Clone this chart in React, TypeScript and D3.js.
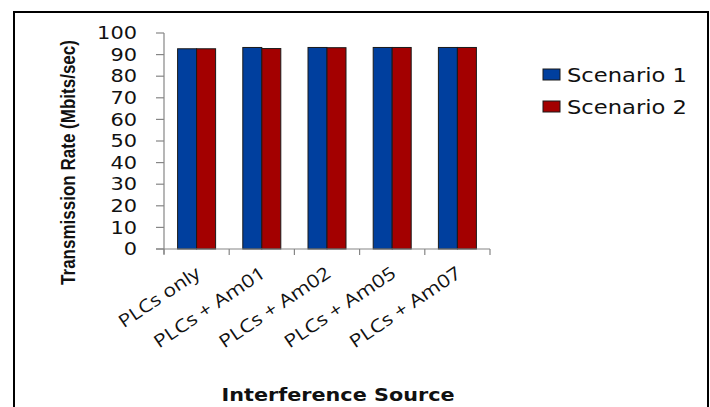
import { useEffect, useRef } from 'react'
import * as d3 from 'd3'

const categories = ['PLCs only', 'PLCs + Am01', 'PLCs + Am02', 'PLCs + Am05', 'PLCs + Am07']
const seriesNames = ['Scenario 1', 'Scenario 2']
const scenario1 = [92.7, 93.3, 93.3, 93.3, 93.3]
const scenario2 = [92.7, 92.8, 93.2, 93.3, 93.3]
const yTicks = [0, 10, 20, 30, 40, 50, 60, 70, 80, 90, 100]
const colors = ['#003f9e', '#a30000']

export default function App() {
  const svgRef = useRef<SVGSVGElement>(null)

  useEffect(() => {
    if (!svgRef.current) return
    const svg = d3.select(svgRef.current)
    svg.selectAll('*').remove()

    const left = 164
    const right = 490
    const top = 33
    const bottom = 249

    // frame
    svg.append('rect')
      .attr('x', 14).attr('y', 12)
      .attr('width', 694).attr('height', 420)
      .style('fill', 'white')
      .style('stroke', '#000')
      .style('stroke-width', 2)

    const x = d3.scaleBand<string>().domain(categories).range([left, right])
    const inner = d3.scaleBand<string>().domain(seriesNames).range([-19, 19])
    const y = d3.scaleLinear().domain([0, 100]).range([bottom, top])

    const data = [scenario1, scenario2]

    // bars
    const groups = svg.append('g')
    categories.forEach((c, i) => {
      seriesNames.forEach((s, j) => {
        const cx = (x(c) as number) + x.bandwidth() / 2
        groups.append('rect')
          .attr('x', cx + (inner(s) as number))
          .attr('y', y(data[j][i]))
          .attr('width', inner.bandwidth())
          .attr('height', y(0) - y(data[j][i]))
          .style('fill', colors[j])
          .style('stroke', '#1a1a1a')
          .style('stroke-width', 1)
      })
    })

    // y axis
    const axisColor = '#868686'
    svg.append('line')
      .attr('x1', left).attr('x2', left)
      .attr('y1', top).attr('y2', bottom + 5)
      .style('stroke', axisColor).style('stroke-width', 1.2)
    yTicks.forEach(t => {
      svg.append('line')
        .attr('x1', left - 8).attr('x2', left)
        .attr('y1', y(t)).attr('y2', y(t))
        .style('stroke', axisColor).style('stroke-width', 1.2)
      const label = String(t)
      svg.append('text')
        .attr('x', 137)
        .attr('y', y(t))
        .attr('dy', '0.36em')
        .attr('text-anchor', 'end')
        .attr('textLength', label.length * 13.3)
        .attr('lengthAdjust', 'spacingAndGlyphs')
        .style('font-family', 'DejaVu Sans')
        .style('font-size', '17px')
        .style('fill', '#111')
        .text(label)
    })

    // x axis
    svg.append('line')
      .attr('x1', left - 8).attr('x2', right)
      .attr('y1', bottom).attr('y2', bottom)
      .style('stroke', axisColor).style('stroke-width', 1.2)
    const edges = categories.map(c => x(c) as number).concat([right])
    edges.forEach(e => {
      svg.append('line')
        .attr('x1', e).attr('x2', e)
        .attr('y1', bottom).attr('y2', bottom + 6)
        .style('stroke', axisColor).style('stroke-width', 1.2)
    })

    // x labels
    categories.forEach(c => {
      const cx = (x(c) as number) + x.bandwidth() / 2 + 5
      svg.append('text')
        .attr('transform', `translate(${cx},${bottom + 27}) rotate(-34)`)
        .attr('text-anchor', 'end')
        .attr('textLength', c === 'PLCs only' ? 94 : 130)
        .attr('lengthAdjust', 'spacingAndGlyphs')
        .style('font-family', 'Open Sans')
        .style('font-size', '18px')
        .style('fill', '#111')
        .text(c)
    })

    // y axis title, squeezed with a scale so its box stays true
    const yTitle = svg.append('text')
      .attr('text-anchor', 'middle')
      .style('font-family', 'Liberation Sans Narrow, Liberation Sans')
      .style('font-weight', 'bold')
      .style('font-size', '20px')
      .style('fill', '#111')
      .text('Transmission Rate (Mbits/sec)')
    const natural = (yTitle.node() as SVGTextElement).getComputedTextLength() || 245
    yTitle.attr('transform',
      `translate(75,${(40 + 285) / 2}) rotate(-90) scale(${245 / natural},1)`)

    svg.append('text')
      .attr('x', 338)
      .attr('y', 401)
      .attr('text-anchor', 'middle')
      .attr('textLength', 233)
      .attr('lengthAdjust', 'spacingAndGlyphs')
      .style('font-family', 'DejaVu Sans')
      .style('font-weight', 'bold')
      .style('font-size', '18px')
      .style('fill', '#111')
      .text('Interference Source')

    // legend
    seriesNames.forEach((s, j) => {
      const ly = 75 + j * 32
      svg.append('rect')
        .attr('x', 543).attr('y', ly - 6)
        .attr('width', 17).attr('height', 11)
        .style('fill', colors[j])
        .style('stroke', '#1a1a1a')
        .style('stroke-width', 1)
      svg.append('text')
        .attr('x', 567).attr('y', ly)
        .attr('dy', '0.36em')
        .attr('textLength', 120)
        .attr('lengthAdjust', 'spacingAndGlyphs')
        .style('font-family', 'DejaVu Sans')
        .style('font-size', '19px')
        .style('fill', '#111')
        .text(s)
    })
  }, [])

  return (
    <svg
      ref={svgRef}
      width={710}
      height={407}
      style={{ position: 'absolute', left: 0, top: 0, background: 'white' }}
    />
  )
}
